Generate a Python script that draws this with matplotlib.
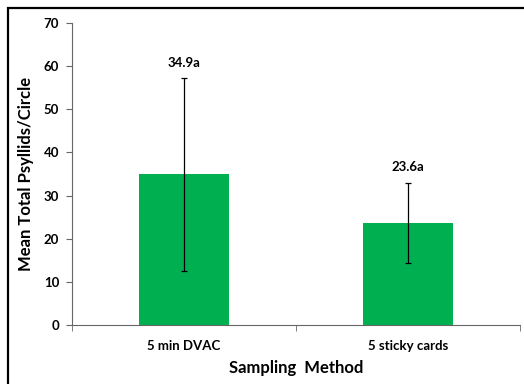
import matplotlib
matplotlib.use("Agg")
import matplotlib.pyplot as plt
from matplotlib.patches import Rectangle

categories = ["5 min DVAC", "5 sticky cards"]
means = [34.9, 23.6]
errors = [22.3, 9.3]
labels = ["34.9a", "23.6a"]

plt.rcParams['font.family'] = ['Lato', 'DejaVu Sans']
plt.rcParams['font.weight'] = 'bold'

fig = plt.figure(figsize=(5.24, 3.84), dpi=100)
ax = fig.add_axes([0.137, 0.154, 0.855, 0.786])

x = list(range(len(categories)))
ax.bar(x, means, width=0.4, color="#00B050", zorder=2)
ax.errorbar(x, means, yerr=errors, fmt='none', ecolor='black', elinewidth=0.9,
            capsize=2, capthick=0.9, zorder=3)
for xi, m, e, lab in zip(x, means, errors, labels):
    ax.annotate(lab, (xi, m + e), xytext=(0, 7), textcoords='offset points',
                ha='center', va='bottom', fontsize=9.5, fontweight='bold')

ax.set_xlim(-0.5, 1.5)
ax.set_ylim(0, 70)
ax.set_yticks(range(0, 71, 10))
ax.set_xticks(x)
ax.set_xticklabels(categories, fontsize=9.5, fontweight='bold')
ax.tick_params(axis='x', length=0, pad=11)
ax.set_xticks([-0.5, 0.5, 1.5], minor=True)
ax.tick_params(axis='x', which='minor', length=4, direction='out', color='#666666')
ax.tick_params(axis='y', labelsize=9.5, length=4, direction='out', color='#666666', pad=5)
for t in ax.get_yticklabels():
    t.set_fontweight('bold')
ax.spines['top'].set_visible(False)
ax.spines['right'].set_visible(False)
ax.spines['left'].set_color('#666666')
ax.spines['bottom'].set_color('#666666')
ax.set_ylabel("Mean Total Psyllids/Circle", fontsize=12, fontweight='bold', labelpad=7)
ax.set_xlabel("Sampling  Method", fontsize=12, fontweight='bold', labelpad=6)

fig.patches.append(Rectangle((8/524, -0.05), 1.0, 1.05 - 8/384, transform=fig.transFigure,
                             fill=False, edgecolor='black', linewidth=1.6))

fig.savefig("out.png", dpi=100)
